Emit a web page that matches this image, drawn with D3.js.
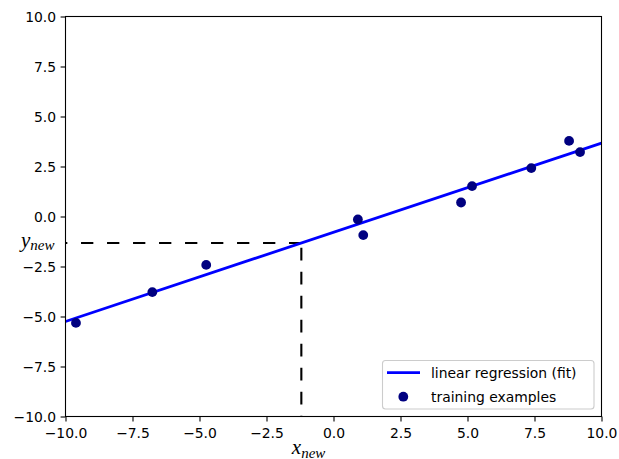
<!DOCTYPE html>
<html>
<head>
<meta charset="utf-8">
<script src="https://cdn.jsdelivr.net/npm/d3@7"></script>
<style>
  body { margin: 0; background: #fff; }
  svg { display: block; }
  .tick text { font-family: "DejaVu Sans", sans-serif; font-size: 13.9px; fill: #000; }
</style>
</head>
<body>
<svg id="chart"></svg>
<script>
// 训练样本
var trainX = [-9.61, -6.76, -4.75, 0.91, 1.11, 4.76, 5.17, 7.38, 8.79, 9.2];
var trainY = [-5.32, -3.78, -2.42, -0.15, -0.93, 0.70, 1.52, 2.42, 3.78, 3.22];
// 拟合直线 y = a*x + b
var fitSlope = 0.446;
var fitIntercept = -0.79;
// 新输入
var xNew = -1.2;
var tickValues = [-10, -7.5, -5, -2.5, 0, 2.5, 5, 7.5, 10];
var legendLabels = ['linear regression (fit)', 'training examples'];

var width = 619, height = 459;
var svg = d3.select('#chart').attr('width', width).attr('height', height);

// 比例尺
var x = d3.scaleLinear().domain([-10, 10]).range([65.5, 601.5]);
var y = d3.scaleLinear().domain([-10, 10]).range([416.5, 16.5]);
var fmt = d3.format('.1f');
var yNew = fitSlope * xNew + fitIntercept;

// 坐标轴
var xAxis = d3.axisBottom(x).tickValues(tickValues).tickFormat(fmt)
    .tickSizeInner(4.9).tickSizeOuter(0).tickPadding(4.5);
var yAxis = d3.axisLeft(y).tickValues(tickValues).tickFormat(fmt)
    .tickSizeInner(4.9).tickSizeOuter(0).tickPadding(4.5);

var gx = svg.append('g').attr('transform', 'translate(0,416.5)').call(xAxis);
var gy = svg.append('g').attr('transform', 'translate(65.5,0)').call(yAxis);
[gx, gy].forEach(function(g) {
    g.select('.domain').remove();
    g.selectAll('.tick line').attr('stroke', '#000').attr('stroke-width', 1.1);
});
gx.selectAll('.tick text').attr('dy', '0.85em');
gy.selectAll('.tick text').attr('dy', '0.36em');

// 虚线 (水平: 从 xNew 向左; 垂直: 从底部向上)
svg.append('line')
    .attr('x1', x(xNew)).attr('y1', y(yNew))
    .attr('x2', x(-10)).attr('y2', y(yNew))
    .attr('stroke', '#000').attr('stroke-width', 2.1)
    .attr('stroke-dasharray', '12.3 13.7');
svg.append('line')
    .attr('x1', x(xNew)).attr('y1', y(yNew))
    .attr('x2', x(xNew)).attr('y2', y(-10))
    .attr('stroke', '#000').attr('stroke-width', 2.1)
    .attr('stroke-dasharray', '12.7 11.3')
    .attr('stroke-dashoffset', 19.3);

// 拟合直线
var clip = svg.append('clipPath').attr('id', 'plot-clip')
    .append('rect').attr('x', 65.5).attr('y', 16.5).attr('width', 536).attr('height', 400);
var lineGen = d3.line()
    .x(function(d) { return x(d); })
    .y(function(d) { return y(fitSlope * d + fitIntercept); });
svg.append('path')
    .datum([-10, 10])
    .attr('d', lineGen)
    .attr('clip-path', 'url(#plot-clip)')
    .attr('fill', 'none')
    .attr('stroke', '#0000ff')
    .attr('stroke-width', 2.8);

// 散点
svg.append('g').selectAll('circle')
    .data(d3.range(trainX.length))
    .enter()
    .append('circle')
    .attr('cx', function(i) { return x(trainX[i]); })
    .attr('cy', function(i) { return y(trainY[i]); })
    .attr('r', 4.9)
    .attr('fill', '#000080');

// 边框
svg.append('rect')
    .attr('x', 65.5).attr('y', 16.5).attr('width', 536).attr('height', 400)
    .attr('fill', 'none').attr('stroke', '#000').attr('stroke-width', 1.1);

// x_new, y_new 标签
function mathLabel(px, py, base, sub) {
    var t = svg.append('text')
        .attr('x', px).attr('y', py)
        .attr('font-family', '"Liberation Serif", "DejaVu Serif", serif')
        .attr('font-style', 'italic')
        .attr('font-size', 21)
        .attr('fill', '#000');
    t.append('tspan').text(base);
    t.append('tspan').attr('font-size', 15).attr('dy', 3.5).text(sub);
}
mathLabel(x(xNew) - 9.5, 454, 'x', 'new');
mathLabel(21, 246.5, 'y', 'new');

// 图例
var legend = svg.append('g');
legend.append('rect')
    .attr('x', 382.5).attr('y', 360.5).attr('width', 211.5).attr('height', 48.5)
    .attr('rx', 3).attr('fill', '#fff').attr('fill-opacity', 0.8)
    .attr('stroke', '#cccccc').attr('stroke-width', 1.1);
legend.append('line')
    .attr('x1', 387).attr('x2', 420).attr('y1', 372.7).attr('y2', 372.7)
    .attr('stroke', '#0000ff').attr('stroke-width', 2.8);
legend.append('circle')
    .attr('cx', 403.3).attr('cy', 396.7).attr('r', 4.9).attr('fill', '#000080');
legend.selectAll('text')
    .data(legendLabels)
    .enter()
    .append('text')
    .attr('x', 431)
    .attr('y', function(d, i) { return 372.7 + i * 24 + 4.9; })
    .attr('font-family', '"DejaVu Sans", sans-serif')
    .attr('font-size', 13.9)
    .attr('fill', '#000')
    .text(function(d) { return d; });
</script>
</body>
</html>
